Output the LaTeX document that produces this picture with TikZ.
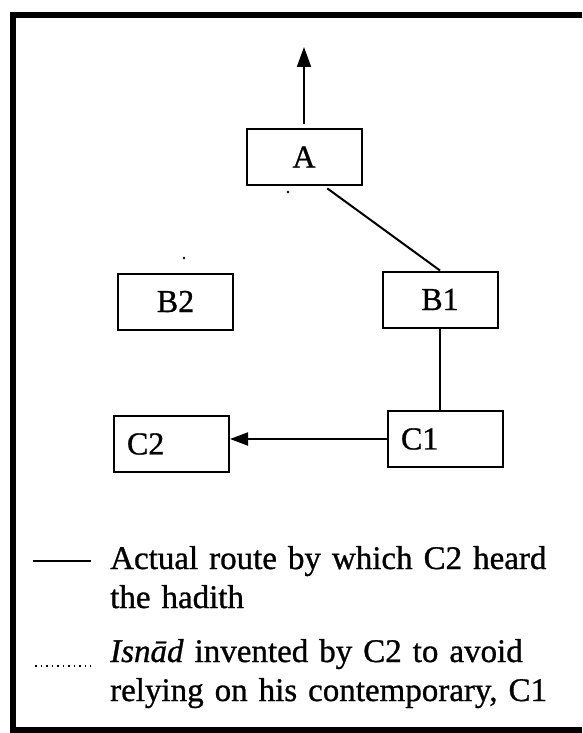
\documentclass[tikz,border=0pt]{standalone}
\usepackage{fontspec}
\setmainfont{Liberation Serif}[FakeBold=0.9]
\usetikzlibrary{arrows.meta}

\begin{document}
\begin{tikzpicture}[x=1pt,y=-1pt]
\useasboundingbox (0,0) rectangle (582,733);
\tikzset{BoxStyle/.style ={draw, line width=2pt, rectangle, minimum width=115pt, minimum height=56pt, inner sep=0pt, font=\fontsize{32}{36}\selectfont}}
\tikzset{LeftBoxStyle/.style ={BoxStyle, text width=89pt, inner xsep=12pt, align=left}}
\tikzset{LinkStyle/.style ={line width=2pt}}
\tikzset{KeyStyle/.style ={anchor=base west, text width=450pt, align=left, inner sep=0pt, font=\fontsize{33}{39}\selectfont}}
% frame, open on the right
\draw[line width=5.5pt] (582,15) -- (13,15) -- (13,730) -- (582,730);
\node[BoxStyle] (A) at (304,157) {A};
\node[BoxStyle] (B2) at (175.5,301.5) {B2};
\node[BoxStyle] (B1) at (440,299.5) {B1};
\node[LeftBoxStyle] (C2) at (171.5,444) {C2};
\node[LeftBoxStyle] (C1) at (445.5,439) {C1};
\coordinate (out) at (304,47);
\draw[LinkStyle, -{Triangle[length=20pt,width=14pt]}, shorten <=4pt] (A.north) -- (out);
\draw[LinkStyle, shorten <=4pt] ([xshift=20pt]A.south) -- (B1.north);
\draw[LinkStyle] (B1.south) -- (B1.south |- C1.north);
\draw[LinkStyle, -{Triangle[length=18pt,width=13pt]}] (C1.west) -- (C1.west -| C2.east);
% specks
\fill (288,192) circle (1.3pt);
\fill (184,258) circle (1.3pt);
% key
\coordinate (solidA) at (33,561);
\coordinate (solidB) at (91,561);
\draw[LinkStyle] (solidA) -- (solidB);
\node[KeyStyle] (key1) at (110,569) {Actual route by which C2 heard\\the hadith};
\coordinate (dotA) at (35,666);
\coordinate (dotB) at (91,666);
\draw[line width=1.5pt, dash pattern=on 1.5pt off 4pt] (dotA) -- (dotB);
\node[KeyStyle] (key2) at (110,662) {\textit{Isnād} invented by C2 to avoid\\relying on his contemporary, C1};
\end{tikzpicture}
\end{document}
